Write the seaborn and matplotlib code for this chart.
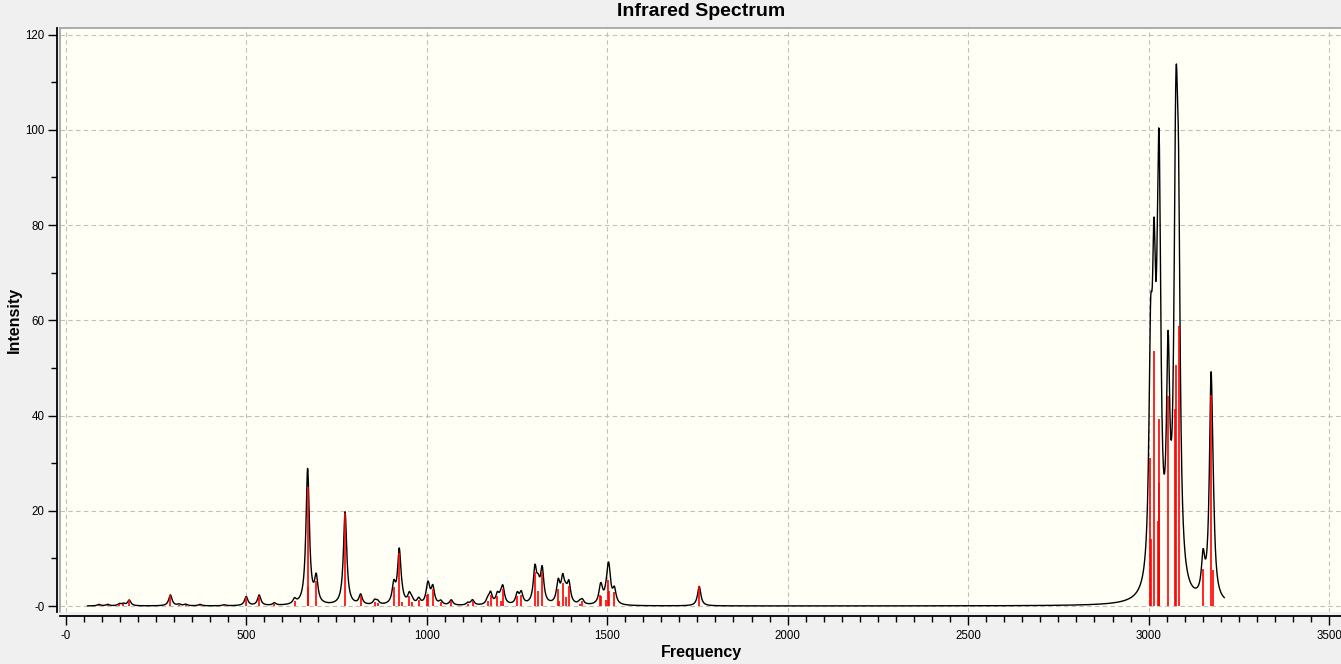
import numpy as np
import seaborn as sns
import matplotlib
matplotlib.use('Agg')
import matplotlib.pyplot as plt
from matplotlib.ticker import MultipleLocator

# stick spectrum (frequency in cm-1, intensity)
stick_freq = [92, 116, 149, 160, 176, 290, 314, 332, 372, 439,
              500, 536, 578, 634, 670, 672, 694, 774, 817, 856,
              864, 909, 924, 931, 952, 959, 978, 1002, 1005, 1017,
              1039, 1068, 1114, 1127, 1169, 1177, 1196, 1205, 1211, 1251,
              1262, 1300, 1309, 1320, 1364, 1366, 1377, 1385, 1394, 1424,
              1431, 1481, 1484, 1497, 1503, 1506, 1520, 1755,
              3005, 3007, 3015, 3025, 3028, 3029, 3030, 3054, 3074, 3077,
              3083, 3151, 3173, 3179]
stick_int = [0.3, 0.3, 0.4, 0.4, 1.2, 2.3, 0.3, 0.3, 0.3, 0.2,
             1.9, 2.2, 0.5, 1.0, 25.0, 4.0, 5.3, 19.6, 2.1, 0.9,
             0.7, 4.0, 11.2, 0.8, 2.0, 0.8, 1.2, 2.3, 2.5, 3.6,
             0.8, 1.1, 0.5, 1.1, 1.0, 2.4, 2.0, 1.0, 3.5, 2.2,
             2.4, 7.2, 3.2, 7.1, 3.6, 1.0, 4.9, 1.8, 4.2, 0.5,
             1.0, 2.4, 2.0, 1.2, 5.5, 3.2, 3.0, 4.1,
             31.0, 14.0, 53.6, 17.9, 25.8, 12.0, 39.3, 44.2, 41.4, 50.6,
             58.8, 7.8, 44.4, 7.6]

x_ticks = [0, 500, 1000, 1500, 2000, 2500, 3000, 3500]
x_labels = ['-0', '500', '1000', '1500', '2000', '2500', '3000', '3500']
y_ticks = [0, 20, 40, 60, 80, 100, 120]
y_labels = ['-0', '20', '40', '60', '80', '100', '120']

hwhm = 5.5  # lorentzian half width used for the broadened curve

# broadened spectrum from the sticks
grid = np.arange(60, 3211, 1.0)
sf = np.array(stick_freq, dtype=float)
si = np.array(stick_int, dtype=float)
curve = (si[None, :] / (1 + ((grid[:, None] - sf[None, :]) / hwhm) ** 2)).sum(axis=1)

sns.set_style('ticks')
plt.rcParams['font.family'] = ['Liberation Sans', 'DejaVu Sans']
plt.rcParams['text.color'] = 'black'

fig = plt.figure(figsize=(13.41, 6.64), dpi=100, facecolor='#f0f0f0')
W, H = 1341, 664
ax = fig.add_axes([60 / W, 1 - 612 / H, (W - 60) / W, (612 - 28) / H])
ax.set_facecolor('#fffff5')

sns.lineplot(x=grid, y=curve, color='black', linewidth=1.0, ax=ax, zorder=2)
ax.vlines(stick_freq, 0, stick_int, colors='red', linewidth=1.2, zorder=3)

ax.set_xlim(-15.8, 3533)
ax.set_ylim(-1.26, 121.4)

ax.set_xticks(x_ticks, x_labels)
ax.set_yticks(y_ticks, y_labels)
ax.xaxis.set_minor_locator(MultipleLocator(50))
ax.yaxis.set_minor_locator(MultipleLocator(10))
ax.tick_params(axis='both', which='major', direction='out', length=6.5,
               width=1, color='black', labelsize=8.3, labelcolor='black')
ax.tick_params(axis='both', which='minor', direction='out', length=4.3,
               width=1, color='black')
ax.tick_params(axis='x', which='major', pad=3.5)
ax.tick_params(axis='y', which='major', pad=2)

ax.grid(True, which='major', color='#c0c0c0', linestyle=(0, (4, 3)), linewidth=0.8)
ax.set_axisbelow(True)

# light frame on top and left of the plot area, black axes set slightly outside
ax.spines['right'].set_visible(False)
ax.spines['top'].set_color('#a0a0a0')
ax.spines['top'].set_linewidth(1.2)
ax.plot([0, 0], [0, 1], transform=ax.transAxes, color='#a0a0a0',
        linewidth=1.2, clip_on=False, zorder=5)
ax.spines['left'].set_position(('outward', 2.5))
ax.spines['bottom'].set_position(('outward', 3))
for side in ['left', 'bottom']:
    ax.spines[side].set_color('black')
    ax.spines[side].set_linewidth(1.3)

ax.set_xlabel('')
ax.set_ylabel('')
fig.text(701 / W, 1 - 12 / H, 'Infrared Spectrum', ha='center', va='center',
         fontsize=14, fontweight='bold')
fig.text(701 / W, 1 - 652 / H, 'Frequency', ha='center', va='center',
         fontsize=11.5, fontweight='bold')
fig.text(14 / W, 1 - 320 / H, 'Intensity', ha='center', va='center',
         rotation=90, fontsize=11.5, fontweight='bold')

fig.savefig('out.png', dpi=100, facecolor=fig.get_facecolor())
